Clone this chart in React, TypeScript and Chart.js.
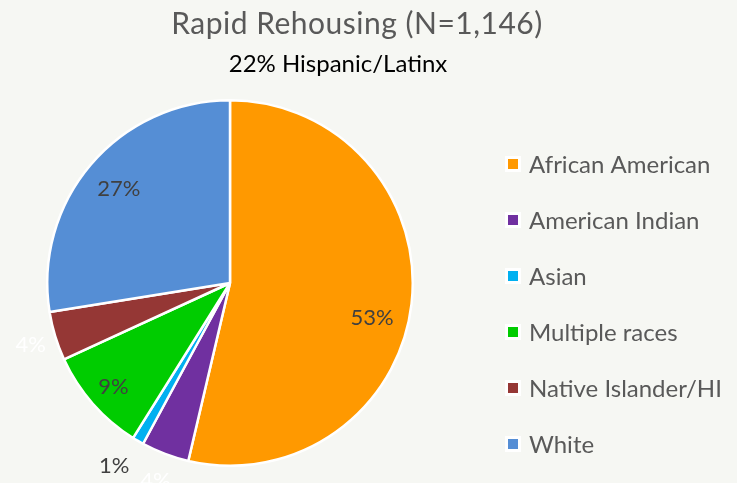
import React, { useEffect, useRef } from 'react';
import { Chart, registerables } from 'chart.js';

Chart.register(...registerables);

// ---- data ----
const categories = ['African American', 'American Indian', 'Asian', 'Multiple races', 'Native Islander/HI', 'White'];
const shares = [53.4, 4.2, 1.0, 9.2, 4.3, 27.4];
const pctLabels = ['53%', '4%', '1%', '9%', '4%', '27%'];
const titleText = 'Rapid Rehousing (N=1,146)';
const subtitleText = '22% Hispanic/Latinx';

// ---- styles ----
const sliceColors = ['#FF9900', '#7030A0', '#00B0F0', '#00CC00', '#953735', '#558ED5'];
const labelColors = ['#404040', '#FFFFFF', '#404040', '#404040', '#FFFFFF', '#404040'];
const labelRadius = [0.8, 1.15, 1.18, 0.85, 1.14, 0.8];
const labelAngleShift = [0.12, 0, 0.04, 0, 0, 0];
const FONT = 'Lato, "Open Sans", sans-serif';
const BG = '#F6F7F3';

const sliceLabelPlugin = {
  id: 'sliceLabels',
  afterDatasetsDraw(chart: any) {
    const ctx = chart.ctx;
    const meta = chart.getDatasetMeta(0);
    ctx.save();
    ctx.font = `22px ${FONT}`;
    ctx.textAlign = 'center';
    ctx.textBaseline = 'middle';
    meta.data.forEach((arc: any, i: number) => {
      const p = arc.getProps(['x', 'y', 'startAngle', 'endAngle', 'outerRadius'], true);
      const mid = (p.startAngle + p.endAngle) / 2 + labelAngleShift[i];
      const r = p.outerRadius * labelRadius[i];
      ctx.fillStyle = labelColors[i];
      ctx.fillText(pctLabels[i], p.x + Math.cos(mid) * r, p.y + Math.sin(mid) * r + 1);
    });
    ctx.restore();
  },
};

const headerPlugin = {
  id: 'header',
  afterDraw(chart: any) {
    const ctx = chart.ctx;
    ctx.save();
    ctx.textAlign = 'center';
    ctx.textBaseline = 'alphabetic';
    ctx.fillStyle = '#595959';
    ctx.font = `30px ${FONT}`;
    (ctx as any).letterSpacing = '0.5px';
    ctx.fillText(titleText, 357, 34);
    (ctx as any).letterSpacing = '0px';
    ctx.fillStyle = '#000000';
    ctx.font = `24px ${FONT}`;
    ctx.fillText(subtitleText, 338, 72);
    ctx.restore();
  },
};

const legendPlugin = {
  id: 'customLegend',
  afterDraw(chart: any) {
    const ctx = chart.ctx;
    const labels: string[] = chart.data.labels;
    const bg: string[] = chart.data.datasets[0].backgroundColor;
    ctx.save();
    ctx.font = `24px ${FONT}`;
    ctx.textAlign = 'left';
    ctx.textBaseline = 'middle';
    labels.forEach((lab, i) => {
      const y = 164 + i * 56;
      ctx.fillStyle = '#FFFFFF';
      ctx.fillRect(505, y - 8, 16, 16);
      ctx.fillStyle = bg[i];
      ctx.fillRect(508, y - 5, 10, 10);
      ctx.fillStyle = '#595959';
      ctx.fillText(lab, 529, y + 1);
    });
    ctx.restore();
  },
};

export default function App() {
  const ref = useRef<HTMLCanvasElement | null>(null);
  useEffect(() => {
    if (!ref.current) return;
    const chart = new Chart(ref.current, {
      type: 'pie',
      data: {
        labels: categories,
        datasets: [
          {
            data: shares,
            backgroundColor: sliceColors,
            borderColor: '#FFFFFF',
            borderWidth: 2.5,
          },
        ],
      },
      options: {
        animation: false,
        responsive: true,
        maintainAspectRatio: false,
        layout: { padding: { left: 46, top: 99, right: 323, bottom: 16 } },
        plugins: {
          legend: { display: false },
          title: { display: false },
          tooltip: { enabled: false },
        },
      },
      plugins: [sliceLabelPlugin, headerPlugin, legendPlugin],
    });
    return () => chart.destroy();
  }, []);
  return (
    <div style={{ position: 'fixed', left: 0, top: 0, width: 737, height: 483, background: BG }}>
      <canvas ref={ref} width={737} height={483} />
    </div>
  );
}
